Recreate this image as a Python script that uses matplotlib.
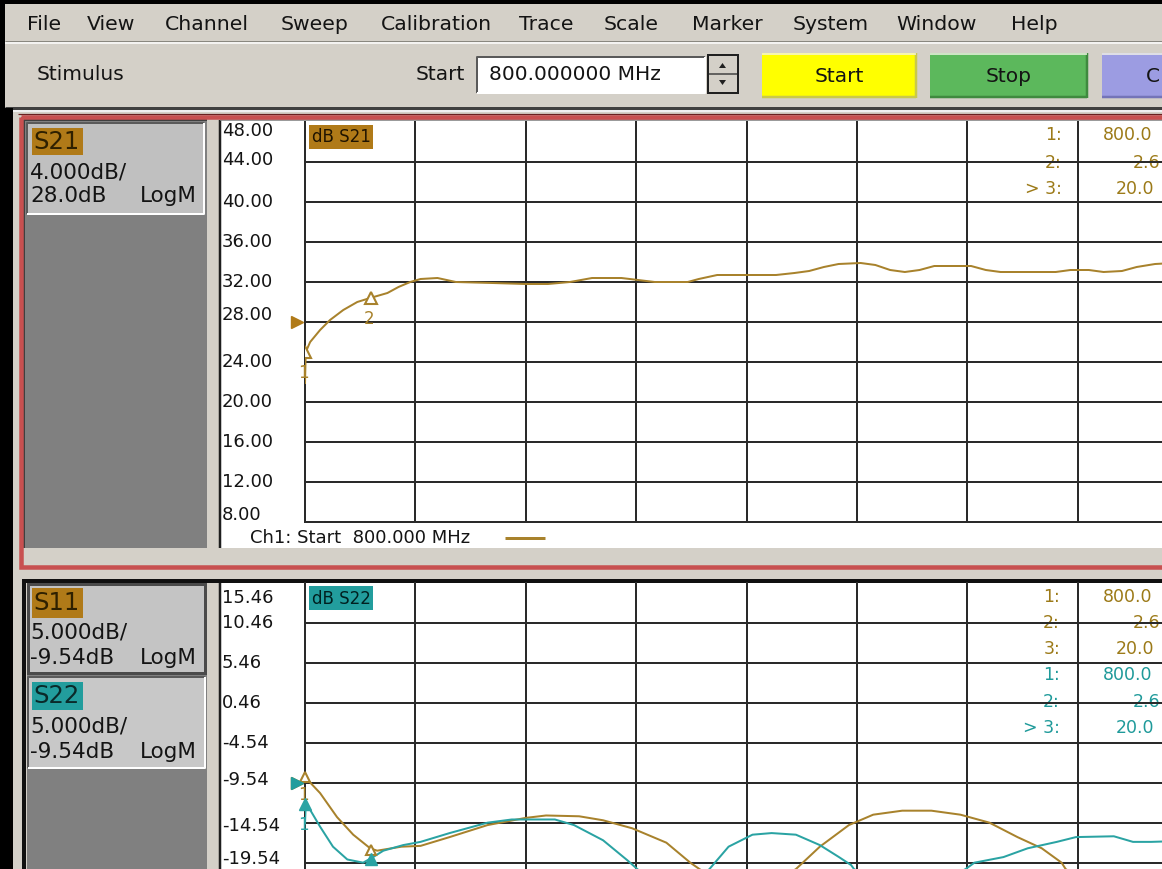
import matplotlib
matplotlib.use('Agg')
import matplotlib.pyplot as plt
import matplotlib.transforms as mtransforms
from matplotlib.patches import Rectangle, Polygon
import numpy as np

W, H = 1162, 869

# ---- data (frequency in GHz, level in dB) ----
s21_freq = [0.80, 0.82, 0.94, 1.21, 1.48, 1.84, 2.22, 2.57, 3.04, 3.34,
            3.66, 3.94, 4.40, 4.90, 5.90, 6.80, 7.40, 8.00, 8.60, 9.40,
            10.30, 11.20, 11.50, 12.00, 13.60, 14.10, 14.50, 14.90, 15.30, 15.90,
            16.30, 16.70, 17.10, 17.50, 17.90, 18.90, 19.30, 19.70, 21.20, 21.60,
            22.10, 22.50, 23.00, 23.40, 23.90, 24.40, 25.00]
s21_db = [21.9, 25.0, 26.0, 27.2, 28.2, 29.2, 30.0, 30.4, 30.9, 31.5,
          32.0, 32.3, 32.4, 32.0, 31.9, 31.8, 31.8, 32.0, 32.4, 32.4,
          32.0, 32.0, 32.3, 32.7, 32.7, 32.9, 33.1, 33.5, 33.8, 33.9,
          33.7, 33.2, 33.0, 33.2, 33.6, 33.6, 33.2, 33.0, 33.0, 33.2,
          33.2, 33.0, 33.1, 33.5, 33.8, 33.9, 33.9]

s11_freq = [0.80, 1.21, 1.67, 2.11, 2.57, 2.76, 3.42, 3.94, 4.73, 5.76,
            6.80, 7.35, 8.25, 8.90, 9.69, 10.62, 11.27, 11.52, 12.80, 14.14,
            14.79, 15.58, 16.24, 17.03, 17.82, 18.61, 19.40, 20.16, 20.82, 21.36,
            21.47, 22.75, 24.50]
s11_db = [-8.8, -10.8, -13.8, -16.0, -17.7, -18.0, -17.5, -17.4, -16.3, -14.8,
          -13.9, -13.6, -13.7, -14.2, -15.2, -17.0, -19.5, -20.3, -24.0, -20.3,
          -17.5, -14.8, -13.5, -13.0, -13.0, -13.5, -14.5, -16.3, -17.7, -19.5,
          -20.3, -24.0, -22.0]

s22_freq = [0.80, 0.82, 0.94, 1.21, 1.56, 1.95, 2.38, 2.65, 2.93, 3.47,
            3.94, 4.73, 5.76, 6.42, 7.59, 8.11, 8.90, 9.56, 9.83, 10.81,
            11.79, 12.31, 12.96, 13.48, 14.14, 14.79, 15.31, 15.64, 15.72, 17.25,
            18.75, 18.99, 19.78, 20.44, 21.23, 21.75, 22.78, 23.30, 23.79, 24.50]
s22_db = [-14.6, -12.2, -12.9, -15.0, -17.5, -19.1, -19.5, -18.8, -18.0, -17.3,
          -16.9, -15.8, -14.5, -14.1, -14.1, -14.8, -16.7, -19.2, -20.3, -24.0,
          -20.3, -17.5, -16.0, -15.8, -16.0, -17.3, -18.8, -19.8, -20.3, -24.0,
          -20.3, -19.5, -18.8, -17.7, -16.9, -16.3, -16.2, -16.9, -16.9, -16.8]

marker_freq = [0.80, 2.60]
s21_marker_db = [25.0, 30.4]
s11_marker_db = [-8.8, -17.9]
s22_marker_db = [-12.2, -19.0]

top_ref, top_div = 28.0, 4.0
bot_ref, bot_div = -9.54, 5.0
top_ticks = [48.0, 44.0, 40.0, 36.0, 32.0, 28.0, 24.0, 20.0, 16.0, 12.0, 8.0]
bot_ticks = [15.46, 10.46, 5.46, 0.46, -4.54, -9.54, -14.54, -19.54]

menu_items = ['File', 'View', 'Channel', 'Sweep', 'Calibration', 'Trace',
              'Scale', 'Marker', 'System', 'Window', 'Help']
# marker readouts, as much as the screen shows of them
top_readout = [('1:', '800.0'), ('2:', '2.6'), ('> 3:', '20.0')]
bot_readout = [('1:', '800.0'), ('2:', '2.6'), ('3:', '20.0'),
               ('1:', '800.0'), ('2:', '2.6'), ('> 3:', '20.0')]

# ---- colours ----
CHROME = '#d4d0c8'
BROWN = '#a8822c'
BROWN_HL = '#b07a18'
BROWN_TXT = '#9c7a18'
TEAL = '#2aa3a3'
TEAL_HL = '#229d9d'
TEAL_TXT = '#1f9a9a'
GRID = '#2a2a2a'
INK = '#141414'
PT = 0.72  # one pixel in points at 100 dpi

fig = plt.figure(figsize=(W / 100, H / 100), dpi=100, facecolor=CHROME)
cv = fig.add_axes([0, 0, 1, 1])
cv.set_xlim(0, W)
cv.set_ylim(H, 0)
cv.axis('off')


def rect(x, y, w, h, fc, ec='none', lw=0, z=1):
    cv.add_patch(Rectangle((x, y), w, h, facecolor=fc, edgecolor=ec,
                           linewidth=lw * PT, zorder=z))


def line(xs, ys, color, px, z=2):
    cv.plot(xs, ys, color=color, lw=px * PT, solid_capstyle='butt', zorder=z)


def txt(x, y, s, size, color=INK, ha='left', z=3, **kw):
    cv.text(x, y, s, fontsize=size, color=color, ha=ha, va='center', zorder=z, **kw)


def sunken(x, y, w, h, fc):
    rect(x, y, w, h, fc)
    line([x, x, x + w], [y + h, y, y], '#5a5a5a', 2)
    line([x, x + w, x + w], [y + h, y + h, y], '#ffffff', 2)


# ---- window frame, menu bar, toolbar ----
rect(0, 0, W, 4, '#000000', z=5)
rect(0, 0, 5, H, '#000000', z=5)
rect(0, 108, 13, H - 108, '#000000', z=5)

menu_x = [27, 87, 165, 281, 381, 519, 604, 692, 793, 896, 1011]
for name, mx in zip(menu_items, menu_x):
    txt(mx, 24, name, 14.7)

line([5, W], [41, 41], '#8a8880', 1)
line([5, W], [42.5, 42.5], '#ffffff', 1.5)

txt(37, 75, 'Stimulus', 14.5)
txt(465, 75, 'Start', 14.5, ha='right')
sunken(477, 57, 228, 36, '#ffffff')
txt(489, 75, '800.000000 MHz', 14.5)

# spinner
rect(708, 55, 30, 38, '#d4d0c8', ec='#202020', lw=2)
line([709, 737], [74, 74], '#404040', 1.5)
cv.add_patch(Polygon([[719, 68], [726, 68], [722.5, 63]], closed=True, fc='#202020', zorder=3))
cv.add_patch(Polygon([[719, 80], [726, 80], [722.5, 85]], closed=True, fc='#202020', zorder=3))

# colored buttons
for bx, bw, fc, edge, label in [(762, 154, '#ffff00', '#c9c94a', 'Start'),
                                (930, 157, '#5cb85c', '#3f8a3f', 'Stop'),
                                (1102, 80, '#9c9ce2', '#7474b8', '')]:
    rect(bx, 53, bw, 45, fc)
    line([bx, bx + bw], [97, 97], edge, 2.5)
    line([bx + bw, bx + bw], [53, 98], edge, 2.5)
    line([bx, bx + bw], [54, 54], '#f4f4e8', 1.5)
    if label:
        txt(bx + bw / 2, 76, label, 14.5, ha='center')
txt(1146, 76, 'C', 14.5)

line([5, W], [107.5, 107.5], '#404040', 3)
line([5, W], [111, 111], '#f0f0f0', 2)

# ---- channel 1 window (active, red frame) ----
cv.add_patch(Rectangle((20.5, 116.5), 1200, 450, facecolor='none',
                       edgecolor='#c85050', linewidth=4.5 * PT, zorder=4))
line([18, W], [114, 114], '#6a2020', 1.2, z=4)

rect(24, 120, 183, 428, '#808080')
line([24, 24, 207], [548, 120, 120], '#404040', 2)
sunken(27, 123, 177, 91, '#c0c0c0')
rect(32, 128, 51, 27, BROWN_HL, z=2)
txt(33, 142, 'S21', 17.5, color='#2e2000')
txt(30, 172, '4.000dB/', 15.5)
txt(30, 196, '28.0dB', 15.5)
txt(140, 196, 'LogM', 15.5)

rect(220, 120, 1000, 428, '#ffffff')
line([220, 220], [120, 548], '#1e1e1e', 2.5)
line([220, W], [120, 120], '#7a7a7a', 1.5)

rect(309, 125, 64, 24, BROWN_HL, z=2)
txt(312, 137.5, 'dB S21', 12, color='#201400')

txt(250, 538, 'Ch1: Start  800.000 MHz', 13)
line([505, 545], [538, 538], BROWN, 3)

readout_y = [135, 163, 189]
readout_vx = [1103, 1133, 1116]
for (k, v), ry, vx in zip(top_readout, readout_y, readout_vx):
    txt(1062, ry, k, 12.5, color=BROWN_TXT, ha='right', z=1.5)
    txt(vx, ry, v, 12.5, color=BROWN_TXT, z=1.5)

# ---- channel 2 window ----
line([22, W], [581, 581], '#101010', 4, z=4)
line([24, 24], [579, H], '#101010', 4, z=4)
rect(27, 583, 180, H - 583, '#808080')
rect(28, 584, 177, 89, '#c4c4c4', ec='#4a4a4a', lw=3, z=1.5)
rect(32, 588, 51, 30, BROWN_HL, z=2)
txt(33, 603, 'S11', 17.5, color='#2e2000')
txt(30, 633, '5.000dB/', 15.5)
txt(30, 658, '-9.54dB', 15.5)
txt(140, 658, 'LogM', 15.5)
sunken(28, 677, 177, 91, '#c8c8c8')
rect(32, 682, 51, 28, TEAL_HL, z=2)
txt(33, 696, 'S22', 17.5, color='#0a2a2a')
txt(30, 727, '5.000dB/', 15.5)
txt(30, 752, '-9.54dB', 15.5)
txt(140, 752, 'LogM', 15.5)

rect(220, 583, 1000, H - 583, '#ffffff')
line([220, 220], [583, H], '#1e1e1e', 2.5)
rect(309, 586, 64, 24, TEAL_HL, z=2)
txt(312, 598.5, 'dB S22', 12, color='#002020')

bot_ry = [597, 623, 649, 675, 702, 728]
bot_vx = [1103, 1133, 1116, 1103, 1133, 1116]
for i, ((k, v), ry, vx) in enumerate(zip(bot_readout, bot_ry, bot_vx)):
    c = BROWN_TXT if i < 3 else TEAL_TXT
    txt(1060, ry, k, 12.5, color=c, ha='right', z=1.5)
    txt(vx, ry, v, 12.5, color=c, z=1.5)


# ---- measurement grids ----
F0, F_DIV = 0.80, 3.0


def scope_axes(top_px, ref, div, ref_row):
    ax = fig.add_axes([305 / W, 1 - (top_px + 400) / H, 1104 / W, 400 / H])
    top_val = ref + ref_row * div
    ax.set_xlim(F0, F0 + 10 * F_DIV)
    ax.set_ylim(top_val - 10 * div, top_val)
    ax.axis('off')
    for k in range(11):
        ax.axvline(F0 + k * F_DIV, color=GRID, lw=2 * PT, zorder=1, clip_on=False)
    for k in range(1, 11):
        ax.axhline(top_val - k * div, color=GRID, lw=2 * PT, zorder=1, clip_on=False)
    return ax


def tick_labels(ax, ticks, shifts):
    base = mtransforms.blended_transform_factory(fig.transFigure, ax.transData)
    for v in ticks:
        dy = shifts.get(v, 0)
        tr = base + mtransforms.ScaledTranslation(0, dy / 100, fig.dpi_scale_trans)
        ax.text(222 / W, v, f'{v:.2f}', transform=tr, fontsize=13, color=INK,
                ha='left', va='center', clip_on=False)


ax1 = scope_axes(122, top_ref, top_div, 5)
tick_labels(ax1, top_ticks, {48.0: -9, 44.0: 2, 28.0: 7, 8.0: 7})
ax1.plot(s21_freq, s21_db, color=BROWN, lw=2 * PT, zorder=3)
ax1.plot(F0 - 0.22, top_ref, marker='>', ms=8, color=BROWN_HL, clip_on=False, zorder=4)
ax1.plot(marker_freq, s21_marker_db, ls='none', marker='^', ms=8, mfc='white',
         mec=BROWN, mew=1.5, zorder=4)
for lab, f, v in zip(['1', '2'], marker_freq, s21_marker_db):
    ax1.annotate(lab, (f, v), xytext=(-2, -21), textcoords='offset pixels',
                 ha='center', va='center', fontsize=12, color=BROWN, annotation_clip=False)

ax2 = scope_axes(583, bot_ref, bot_div, 5)
tick_labels(ax2, bot_ticks, {15.46: -15, -9.54: 3, -14.54: -3, -19.54: 4})
ax2.plot(s11_freq, s11_db, color=BROWN, lw=2 * PT, zorder=3)
ax2.plot(s22_freq, s22_db, color=TEAL, lw=2 * PT, zorder=3.2)
ax2.plot(F0 - 0.22, bot_ref, marker='>', ms=8, color=BROWN_HL, clip_on=False, zorder=4)
ax2.plot(F0 - 0.22, bot_ref, marker='>', ms=8, color=TEAL_HL, clip_on=False, zorder=4.1)
ax2.plot(marker_freq, s11_marker_db, ls='none', marker='^', ms=7, mfc='white',
         mec=BROWN, mew=1.5, zorder=4, clip_on=False)
ax2.plot(marker_freq, s22_marker_db, ls='none', marker='^', ms=8, color=TEAL,
         zorder=4.2, clip_on=False)
ax2.annotate('1', (marker_freq[0], s11_marker_db[0]), xytext=(-2, -18),
             textcoords='offset pixels', ha='center', va='center', fontsize=12,
             color=BROWN, annotation_clip=False)
ax2.annotate('1', (marker_freq[0], s22_marker_db[0]), xytext=(-2, -21),
             textcoords='offset pixels', ha='center', va='center', fontsize=12,
             color=TEAL, annotation_clip=False)

fig.savefig('out.png', dpi=100, facecolor=CHROME)
